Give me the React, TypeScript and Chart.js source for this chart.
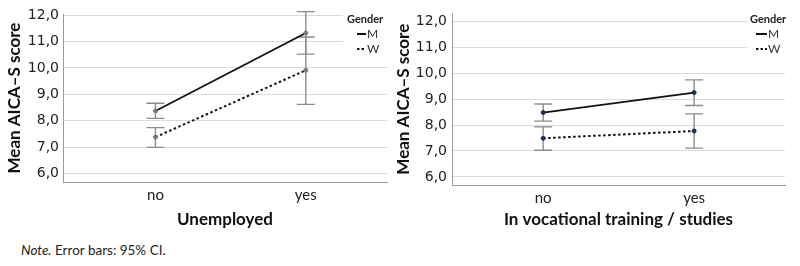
import React, { useEffect, useRef } from 'react';
import { Chart, registerables } from 'chart.js';
Chart.register(...registerables);

const categories = ['no', 'yes'];
const yTickValues = [6, 7, 8, 9, 10, 11, 12];
const genderLabels = ['M', 'W'];

const unempMeanM = [8.37, 11.32];
const unempLowM = [8.09, 10.52];
const unempHighM = [8.66, 12.13];
const unempMeanW = [7.38, 9.91];
const unempLowW = [6.99, 8.62];
const unempHighW = [7.74, 11.17];

const vocMeanM = [8.48, 9.25];
const vocLowM = [8.15, 8.75];
const vocHighM = [8.81, 9.74];
const vocMeanW = [7.49, 7.77];
const vocLowW = [7.03, 7.11];
const vocHighW = [7.93, 8.43];

const errorBarPlugin = {
  id: 'errorBars',
  beforeDatasetsDraw(chart: any) {
    const { ctx, scales } = chart;
    const x = scales.x;
    const y = scales.y;
    ctx.save();
    ctx.strokeStyle = '#8c8c8c';
    ctx.lineWidth = 1.4;
    chart.data.datasets.forEach((ds: any) => {
      ds.data.forEach((p: any, i: number) => {
        const px = x.getPixelForValue(p.x);
        const yl = y.getPixelForValue(ds.errLow[i]);
        const yh = y.getPixelForValue(ds.errHigh[i]);
        ctx.beginPath();
        ctx.moveTo(px, yl);
        ctx.lineTo(px, yh);
        ctx.moveTo(px - 9, yl);
        ctx.lineTo(px + 9, yl);
        ctx.moveTo(px - 9, yh);
        ctx.lineTo(px + 9, yh);
        ctx.stroke();
      });
    });
    ctx.restore();
  },
};

const genderLegendPlugin = {
  id: 'genderLegend',
  afterDraw(chart: any, _args: any, opts: any) {
    const { ctx, chartArea } = chart;
    const bx = opts.boxLeft;
    ctx.save();
    ctx.fillStyle = '#ffffff';
    ctx.fillRect(bx, 0, chartArea.right - bx + 1, opts.boxBottom);
    ctx.fillStyle = '#222';
    ctx.textBaseline = 'middle';
    ctx.textAlign = 'left';
    ctx.font = 'bold 11px Lato';
    ctx.fillText('Gender', bx + opts.titleDx, 19);
    const rows = [
      { label: genderLabels[0], y: 34, dash: [] as number[] },
      { label: genderLabels[1], y: 49, dash: [2.5, 2] },
    ];
    rows.forEach((r) => {
      ctx.strokeStyle = '#111';
      ctx.lineWidth = 2;
      ctx.setLineDash(r.dash);
      ctx.beginPath();
      ctx.moveTo(bx + opts.lineDx, r.y);
      ctx.lineTo(bx + opts.lineDx + opts.lineLen, r.y);
      ctx.stroke();
      ctx.setLineDash([]);
      ctx.font = '12px Lato';
      ctx.fillStyle = '#333';
      ctx.fillText(r.label, bx + opts.lineDx + opts.lineLen + 1, r.y + 0.5);
    });
    ctx.restore();
  },
};

type PanelProps = {
  left: number;
  width: number;
  height: number;
  meanM: number[];
  lowM: number[];
  highM: number[];
  meanW: number[];
  lowW: number[];
  highW: number[];
  xTitle: string;
  yMin: number;
  yMax: number;
  xMin: number;
  xMax: number;
  padTop: number;
  padRight: number;
  yWidth: number;
  xHeight: number;
  yTickPad: number;
  xTickPad: number;
  yTitlePad: number;
  pointColor: string;
  legend: any;
};

function Panel(props: PanelProps) {
  const ref = useRef<HTMLCanvasElement>(null);
  useEffect(() => {
    if (!ref.current) return;
    const mk = (vals: number[]) => vals.map((v, i) => ({ x: i, y: v }));
    const chart = new Chart(ref.current, {
      type: 'line',
      data: {
        datasets: [
          {
            label: genderLabels[0],
            data: mk(props.meanM),
            errLow: props.lowM,
            errHigh: props.highM,
            borderColor: '#111',
            borderWidth: 1.8,
            pointRadius: 2,
            pointBackgroundColor: props.pointColor,
            pointBorderColor: props.pointColor,
            pointBorderWidth: 1,
            clip: false,
          } as any,
          {
            label: genderLabels[1],
            data: mk(props.meanW),
            errLow: props.lowW,
            errHigh: props.highW,
            borderColor: '#111',
            borderWidth: 2,
            borderDash: [2.5, 2.5],
            pointRadius: 2,
            pointBackgroundColor: props.pointColor,
            pointBorderColor: props.pointColor,
            pointBorderWidth: 1,
            clip: false,
          } as any,
        ],
      },
      options: {
        animation: false,
        responsive: false,
        maintainAspectRatio: false,
        events: [],
        layout: { padding: { top: props.padTop, right: props.padRight, left: 0, bottom: 0 } },
        plugins: {
          legend: { display: false },
          tooltip: { enabled: false },
          genderLegend: props.legend,
        } as any,
        scales: {
          x: {
            type: 'linear',
            min: props.xMin,
            max: props.xMax,
            afterBuildTicks: (s: any) => {
              s.ticks = categories.map((_, i) => ({ value: i }));
            },
            afterFit: (s: any) => {
              s.height = props.xHeight;
            },
            ticks: {
              autoSkip: false,
              maxRotation: 0,
              padding: props.xTickPad,
              color: '#222',
              font: { family: 'Lato', size: 15 },
              callback: (v: any) => categories[Math.round(Number(v))] ?? '',
            },
            grid: { display: false, drawTicks: false },
            border: { display: true, color: '#9a9a9a', width: 1 },
            title: {
              display: true,
              text: props.xTitle,
              color: '#111',
              font: { family: 'Lato', size: 17, weight: 'bold' },
              padding: { top: 0, bottom: 9.8 },
            },
          },
          y: {
            type: 'linear',
            min: props.yMin,
            max: props.yMax,
            afterBuildTicks: (s: any) => {
              s.ticks = yTickValues.map((v) => ({ value: v }));
            },
            afterFit: (s: any) => {
              s.width = props.yWidth;
            },
            ticks: {
              padding: props.yTickPad,
              color: '#222',
              font: { family: 'DejaVu Sans', size: 14 },
              callback: (v: any) => Number(v).toFixed(1).replace('.', ','),
            },
            grid: { color: '#dadada', lineWidth: 1, drawTicks: false },
            border: { display: true, color: '#9a9a9a', width: 1 },
            title: {
              display: true,
              text: 'Mean AICA–S score',
              color: '#111',
              font: { family: 'Lato', size: 17, weight: 'bold' },
              padding: { top: props.yTitlePad, bottom: 0 },
            },
          },
        },
      } as any,
      plugins: [errorBarPlugin, genderLegendPlugin],
    });
    return () => chart.destroy();
  }, []);
  return (
    <canvas
      ref={ref}
      width={props.width}
      height={props.height}
      style={{ position: 'absolute', left: props.left, top: 0, width: props.width, height: props.height }}
    />
  );
}

export default function App() {
  return (
    <div style={{ position: 'absolute', left: 0, top: 0, width: 800, height: 266, background: '#fff', overflow: 'hidden' }}>
      <Panel
        left={0}
        width={395}
        height={240}
        meanM={unempMeanM}
        lowM={unempLowM}
        highM={unempHighM}
        meanW={unempMeanW}
        lowW={unempLowW}
        highW={unempHighW}
        xTitle="Unemployed"
        yMin={5.68}
        yMax={12.04}
        xMin={-0.615}
        xMax={1.54}
        padTop={14}
        padRight={8}
        yWidth={63}
        xHeight={58}
        yTickPad={4}
        xTickPad={4}
        yTitlePad={4.8}
        pointColor="#7a7a7a"
        legend={{ boxLeft: 343, boxBottom: 58, titleDx: 4, lineDx: 14, lineLen: 9 }}
      />
      <Panel
        left={393}
        width={407}
        height={240}
        meanM={vocMeanM}
        lowM={vocLowM}
        highM={vocHighM}
        meanW={vocMeanW}
        lowW={vocLowW}
        highW={vocHighW}
        xTitle="In vocational training / studies"
        yMin={5.69}
        yMax={12.3}
        xMin={-0.604}
        xMax={1.602}
        padTop={5}
        padRight={15}
        yWidth={59}
        xHeight={55}
        yTickPad={5}
        xTickPad={4}
        yTitlePad={0.8}
        pointColor="#1b2f5e"
        legend={{ boxLeft: 354, boxBottom: 58, titleDx: 3, lineDx: 9, lineLen: 11 }}
      />
      <div
        style={{
          position: 'absolute',
          left: 21,
          top: 241,
          fontFamily: 'Lato',
          fontSize: 13.5,
          lineHeight: '18px',
          color: '#222',
          whiteSpace: 'nowrap',
        }}
      >
        <i>Note.</i> Error bars: 95% CI.
      </div>
    </div>
  );
}
